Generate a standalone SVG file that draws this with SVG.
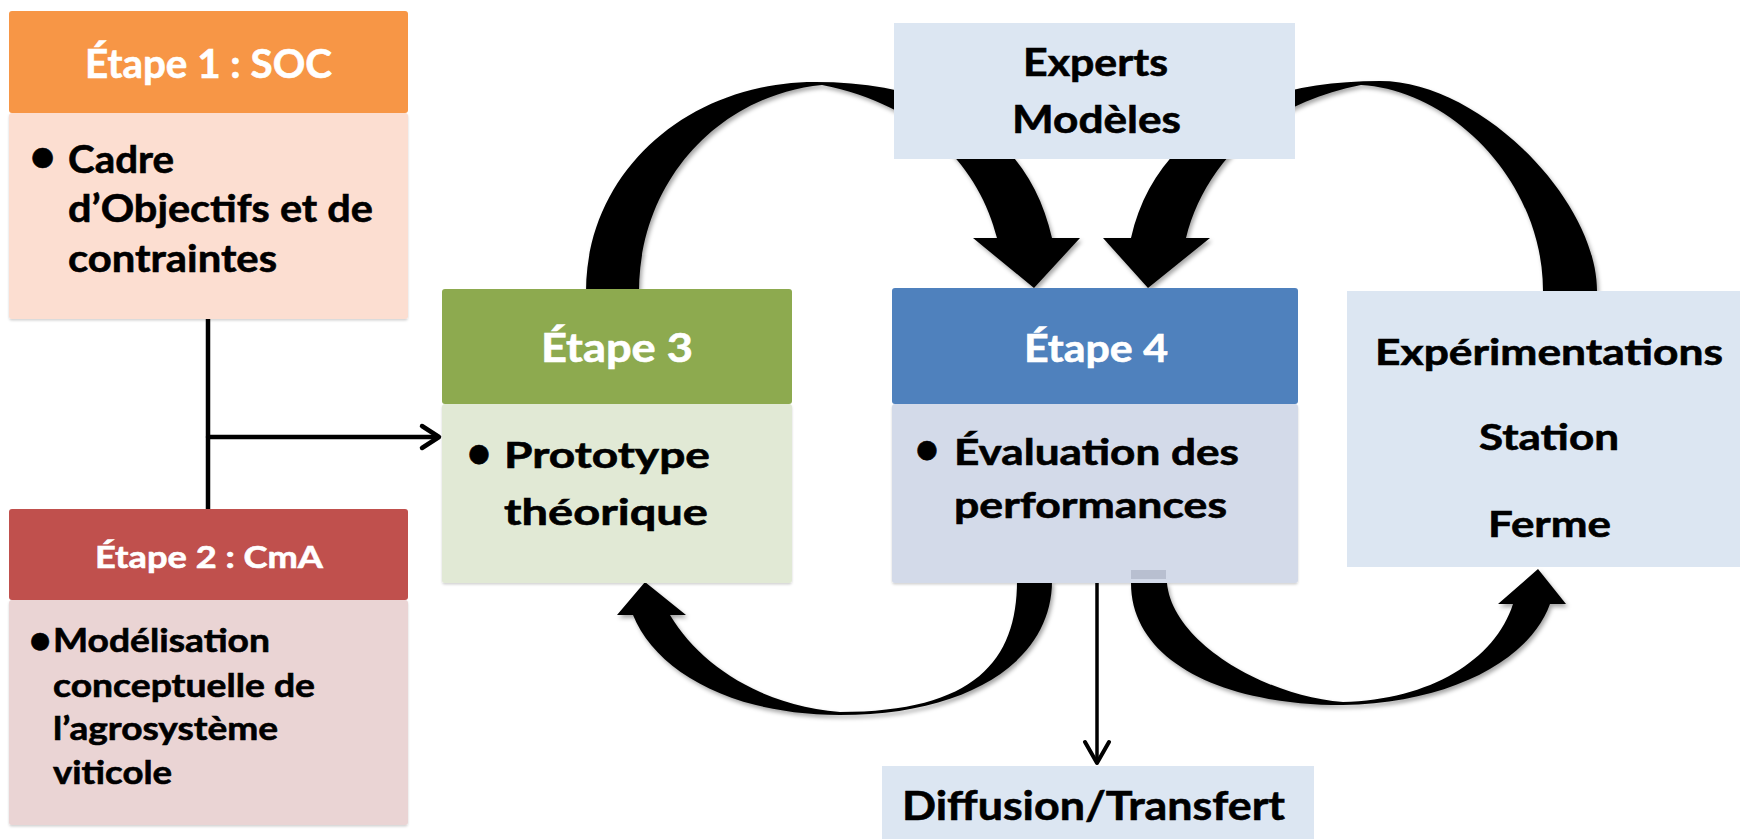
<svg xmlns="http://www.w3.org/2000/svg" width="1740" height="839" viewBox="0 0 1740 839">
<defs>
<style>
text{font-family:Lato,"Open Sans","Liberation Sans",sans-serif;font-weight:700}
.hd{fill:#ffffff;stroke:#ffffff;stroke-width:0.6}
.bd{fill:#000000;stroke:#000000;stroke-width:0.6}
.c{text-anchor:middle}
.thin{fill:none;stroke:#000;stroke-width:4.5;stroke-linecap:round;stroke-linejoin:round}
</style>
<filter id="sh" x="-10%" y="-10%" width="130%" height="130%">
<feDropShadow dx="2" dy="3" stdDeviation="2" flood-color="#000" flood-opacity="0.35"/>
</filter>
<filter id="bs" x="-5%" y="-5%" width="110%" height="115%">
<feDropShadow dx="0" dy="1.5" stdDeviation="1.2" flood-color="#000" flood-opacity="0.18"/>
</filter>
</defs>
<rect width="1740" height="839" fill="#ffffff"/>

<g id="connectors">
<!-- Step3 -> Experts -> Step4 curved arrow -->
<path id="arc1" filter="url(#sh)" fill="#000" d="M586,292 C586,170 690,82 815,82 C950,82 1030,140 1052,238 L1080,238 L1034,288 L973,238 L997,238 C980,170 925,105 822,85 C720,95 639,180 639,292 Z"/>
<!-- Experimentations -> Experts -> Step4 curved arrow -->
<path id="arc2" filter="url(#sh)" fill="#000" d="M1597,291 C1597,200 1480,81 1380,81 C1240,81 1153,140 1131,238 L1103,238 L1148,288 L1210,238 L1186,238 C1203,170 1258,105 1361,85 C1450,90 1543,180 1543,291 Z"/>
<!-- Step4 -> Step3 bottom curved arrow -->
<path id="arc3" filter="url(#sh)" fill="#000" d="M1017,581 C1017,660 975,712 840,712 C760,705 700,665 670,615 L686,615 L645,582 L617,615 L633,615 C655,670 730,715 840,715 C970,715 1052,660 1052,581 Z"/>
<!-- Step4 -> Experimentations bottom curved arrow -->
<path id="arc4" filter="url(#sh)" fill="#000" d="M1131,583 C1131,660 1220,705 1343,705 C1450,703 1530,660 1550,604 L1566,604 L1538,569 L1498,604 L1513,604 C1495,660 1430,700 1343,702 C1260,695 1172,640 1167,583 Z"/>
<!-- Step1/Step2 -> Step3 -->
<line class="thin" x1="208" y1="319" x2="208" y2="509"/>
<line class="thin" x1="208" y1="437" x2="438" y2="437"/>
<polyline class="thin" points="422,426 439,437 422,448"/>
<!-- Step4 -> Diffusion -->
<line x1="1097" y1="583" x2="1097" y2="762" stroke="#000" stroke-width="3.5"/>
<polyline points="1085,742 1097,763 1109,742" fill="none" stroke="#000" stroke-width="4" stroke-linecap="round" stroke-linejoin="round"/>
</g>

<g id="etape1">
<rect x="9" y="113" width="399" height="206" rx="3" fill="#FCDED1" filter="url(#bs)"/>
<rect x="9" y="11" width="399" height="102" rx="3" fill="#F79646"/>
<text class="hd c" x="208.5" y="78" font-size="40" textLength="247" lengthAdjust="spacingAndGlyphs">Étape 1 : SOC</text>
<text class="bd c" x="42.5" y="172" font-size="46">•</text>
<text class="bd" x="68" y="173" font-size="38" textLength="106" lengthAdjust="spacingAndGlyphs">Cadre</text>
<text class="bd" x="68" y="222" font-size="38" textLength="305" lengthAdjust="spacingAndGlyphs">d’Objectifs et de</text>
<text class="bd" x="68" y="272" font-size="38" textLength="209" lengthAdjust="spacingAndGlyphs">contraintes</text>
</g>

<g id="etape2">
<rect x="9" y="600" width="399" height="225" rx="3" fill="#EAD4D4" filter="url(#bs)"/>
<rect x="9" y="509" width="399" height="91" rx="3" fill="#C0504D"/>
<text class="hd c" x="209" y="568" font-size="31" textLength="228" lengthAdjust="spacingAndGlyphs">Étape 2 : CmA</text>
<text class="bd c" x="40" y="654" font-size="40">•</text>
<text class="bd" x="53" y="652" font-size="32" textLength="217" lengthAdjust="spacingAndGlyphs">Modélisation</text>
<text class="bd" x="53" y="697" font-size="32" textLength="262" lengthAdjust="spacingAndGlyphs">conceptuelle de</text>
<text class="bd" x="53" y="740" font-size="32" textLength="225" lengthAdjust="spacingAndGlyphs">l’agrosystème</text>
<text class="bd" x="53" y="784" font-size="32" textLength="119" lengthAdjust="spacingAndGlyphs">viticole</text>
</g>

<g id="etape3">
<rect x="442" y="404" width="350" height="179" rx="3" fill="#E1E9D5" filter="url(#bs)"/>
<rect x="442" y="289" width="350" height="115" rx="3" fill="#8DAA4F"/>
<text class="hd c" x="617" y="362" font-size="40" textLength="152" lengthAdjust="spacingAndGlyphs">Étape 3</text>
<text class="bd c" x="479" y="468" font-size="43">•</text>
<text class="bd" x="504" y="468" font-size="37" textLength="206" lengthAdjust="spacingAndGlyphs">Prototype</text>
<text class="bd" x="504" y="525" font-size="37" textLength="204" lengthAdjust="spacingAndGlyphs">théorique</text>
</g>

<g id="etape4">
<rect x="892" y="404" width="406" height="179" rx="3" fill="#D3DAE9" filter="url(#bs)"/>
<rect x="892" y="288" width="406" height="116" rx="3" fill="#4F81BD"/>
<rect x="1131" y="570" width="35" height="9" fill="#B8BFD0"/>
<text class="hd c" x="1096" y="362" font-size="38" textLength="144" lengthAdjust="spacingAndGlyphs">Étape 4</text>
<text class="bd c" x="927" y="464" font-size="43">•</text>
<text class="bd" x="954" y="465" font-size="36" textLength="285" lengthAdjust="spacingAndGlyphs">Évaluation des</text>
<text class="bd" x="954" y="518" font-size="36" textLength="273" lengthAdjust="spacingAndGlyphs">performances</text>
</g>

<g id="experts">
<rect x="894" y="23" width="401" height="136" fill="#DCE6F2"/>
<text class="bd c" x="1095.5" y="76" font-size="38" textLength="145" lengthAdjust="spacingAndGlyphs">Experts</text>
<text class="bd c" x="1096.5" y="133" font-size="38" textLength="169" lengthAdjust="spacingAndGlyphs">Modèles</text>
</g>

<g id="experimentations">
<rect x="1347" y="291" width="393" height="276" fill="#DCE6F2"/>
<text class="bd c" x="1549" y="365" font-size="37" textLength="348" lengthAdjust="spacingAndGlyphs">Expérimentations</text>
<text class="bd c" x="1549" y="450" font-size="37" textLength="140" lengthAdjust="spacingAndGlyphs">Station</text>
<text class="bd c" x="1549.5" y="537" font-size="37" textLength="123" lengthAdjust="spacingAndGlyphs">Ferme</text>
</g>

<g id="diffusion">
<rect x="882" y="766" width="432" height="73" fill="#DCE6F2"/>
<text class="bd c" x="1093.5" y="820" font-size="41" textLength="383" lengthAdjust="spacingAndGlyphs">Diffusion/Transfert</text>
</g>
</svg>
